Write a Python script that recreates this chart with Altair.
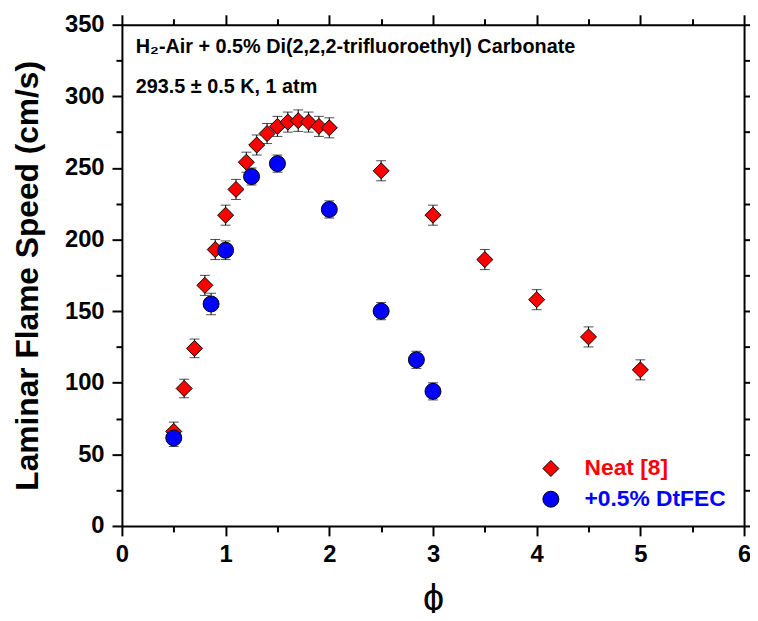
import altair as alt
import pandas as pd

# ---- data ----
neat_phi = [0.5, 0.6, 0.7, 0.8, 0.9, 1.0, 1.1, 1.2, 1.3, 1.4, 1.5, 1.6, 1.7, 1.8, 1.9, 2.0,
            2.5, 3.0, 3.5, 4.0, 4.5, 5.0]
neat_sl = [66, 96, 124, 168, 193, 217, 235, 254, 266, 274, 279, 282, 283, 282, 279, 278,
           248, 217, 186, 158, 132, 109]
neat_err = [6.5, 6.5, 6.5, 7, 7, 7, 7, 7, 7, 7, 7, 7, 7.5, 7, 7, 7,
            7, 7, 7, 7, 7, 7]

dtfec_phi = [0.5, 0.86, 1.0, 1.25, 1.5, 2.0, 2.5, 2.84, 3.0]
dtfec_sl = [61.5, 155, 192.5, 244, 253, 221, 150, 116, 94]
dtfec_err = [6, 7.5, 6.5, 6, 6, 6, 6, 6, 6]

series_names = ["Neat [8]", "+0.5% DtFEC"]
series_colors = ["#FF0000", "#0000FF"]
series_shapes = ["diamond", "circle"]

x_ticks = [0, 0.5, 1, 1.5, 2, 2.5, 3, 3.5, 4, 4.5, 5, 5.5, 6]
y_ticks = [0, 25, 50, 75, 100, 125, 150, 175, 200, 225, 250, 275, 300, 325, 350]

title_line1 = "H\u2082-Air + 0.5% Di(2,2,2-trifluoroethyl) Carbonate"
title_line2 = "293.5 \u00b1 0.5 K, 1 atm"

FONT = "Liberation Sans"

neat = pd.DataFrame({"phi": neat_phi, "sl": neat_sl, "err": neat_err, "series": series_names[0]})
dt = pd.DataFrame({"phi": dtfec_phi, "sl": dtfec_sl, "err": dtfec_err, "series": series_names[1]})
df = pd.concat([neat, dt], ignore_index=True)
df["lo"] = df["sl"] - df["err"]
df["hi"] = df["sl"] + df["err"]

xscale = alt.Scale(domain=[0, 6], nice=False, zero=False)
yscale = alt.Scale(domain=[0, 350], nice=False)

common_axis = dict(
    grid=False, domainColor="black", domainWidth=2, tickColor="black", tickWidth=2,
    labelFont=FONT, labelFontWeight="bold", labelFontSize=24, labelColor="black",
    titleFont=FONT, titleColor="black",
)
x_tick_size = {"condition": {"test": "datum.value % 1 === 0", "value": 10}, "value": 6}
y_tick_size = {"condition": {"test": "datum.value % 50 === 0", "value": 10}, "value": 6}

x_main = alt.Axis(
    orient="bottom", values=x_ticks,
    labelExpr="datum.value % 1 === 0 ? format(datum.value, 'd') : ''",
    tickSize=x_tick_size, labelPadding=7,
    title="\u03d5", titleFontSize=38, titleFontWeight="normal",
    titleX=314, titleY=84, titleBaseline="alphabetic", titleAlign="center",
    labelFlush=False, labelOverlap=False, **common_axis)
y_main = alt.Axis(
    orient="left", values=y_ticks,
    labelExpr="datum.value % 50 === 0 ? format(datum.value, 'd') : ''",
    tickSize=y_tick_size, labelPadding=8,
    title="Laminar Flame Speed (cm/s)", titleFontSize=32, titleFontWeight="bold",
    titleX=-78, titleY=253, titleAngle=270, titleBaseline="bottom", titleAlign="center",
    labelFlush=False, labelOverlap=False, **common_axis)
x_top = alt.Axis(orient="top", values=x_ticks, labels=False, title=None,
                 tickSize=x_tick_size, **common_axis)
y_right = alt.Axis(orient="right", values=y_ticks, labels=False, title=None,
                   tickSize=y_tick_size, **common_axis)

color_scale = alt.Scale(domain=series_names, range=series_colors)
shape_scale = alt.Scale(domain=series_names, range=series_shapes)

base = alt.Chart(df)

bars = base.mark_rule(color="black", strokeWidth=1).encode(
    x=alt.X("phi:Q", scale=xscale, axis=x_main),
    y=alt.Y("lo:Q", scale=yscale, axis=y_main),
    y2="hi:Q",
)
cap_lo = base.mark_tick(orient="horizontal", color="black", size=10, thickness=1).encode(
    x=alt.X("phi:Q", scale=xscale, axis=None),
    y=alt.Y("lo:Q", scale=yscale, axis=None),
)
cap_hi = base.mark_tick(orient="horizontal", color="black", size=10, thickness=1).encode(
    x=alt.X("phi:Q", scale=xscale, axis=None),
    y=alt.Y("hi:Q", scale=yscale, axis=None),
)
points = base.mark_point(filled=True, stroke="black", strokeWidth=1, opacity=1, size=260).encode(
    x=alt.X("phi:Q", scale=xscale, axis=x_top),
    y=alt.Y("sl:Q", scale=yscale, axis=y_right),
    color=alt.Color("series:N", scale=color_scale, legend=None),
    fill=alt.Fill("series:N", scale=color_scale, legend=None),
    shape=alt.Shape("series:N", scale=shape_scale, legend=None),
)

ann1 = alt.Chart(pd.DataFrame({"t": [title_line1]})).mark_text(
    align="left", baseline="middle", font=FONT, fontWeight="bold", fontSize=20, color="black"
).encode(text="t:N", x=alt.value(14), y=alt.value(23))
ann2 = alt.Chart(pd.DataFrame({"t": [title_line2]})).mark_text(
    align="left", baseline="middle", font=FONT, fontWeight="bold", fontSize=20, color="black"
).encode(text="t:N", x=alt.value(14), y=alt.value(63))

leg_layers = []
for name, col, shp, yy in zip(series_names, series_colors, series_shapes, [448, 479]):
    d = pd.DataFrame({"t": [name]})
    leg_layers.append(alt.Chart(d).mark_point(
        filled=True, fill=col, stroke="black", strokeWidth=1, opacity=1, shape=shp, size=260
    ).encode(x=alt.value(433), y=alt.value(yy)))
    leg_layers.append(alt.Chart(d).mark_text(
        align="left", baseline="middle", font=FONT, fontWeight="bold", fontSize=23, color=col
    ).encode(text="t:N", x=alt.value(467), y=alt.value(yy)))

chart = alt.layer(bars, cap_lo, cap_hi, points, ann1, ann2, *leg_layers).resolve_axis(
    x="independent", y="independent"
).properties(
    width=628, height=506,
    autosize=alt.AutoSizeParams(type="none"),
    padding={"left": 115, "top": 14, "right": 6, "bottom": 85},
).configure_view(stroke=None).configure(background="white")

chart.save("out.html", embed_options={"renderer": "svg", "actions": False})
